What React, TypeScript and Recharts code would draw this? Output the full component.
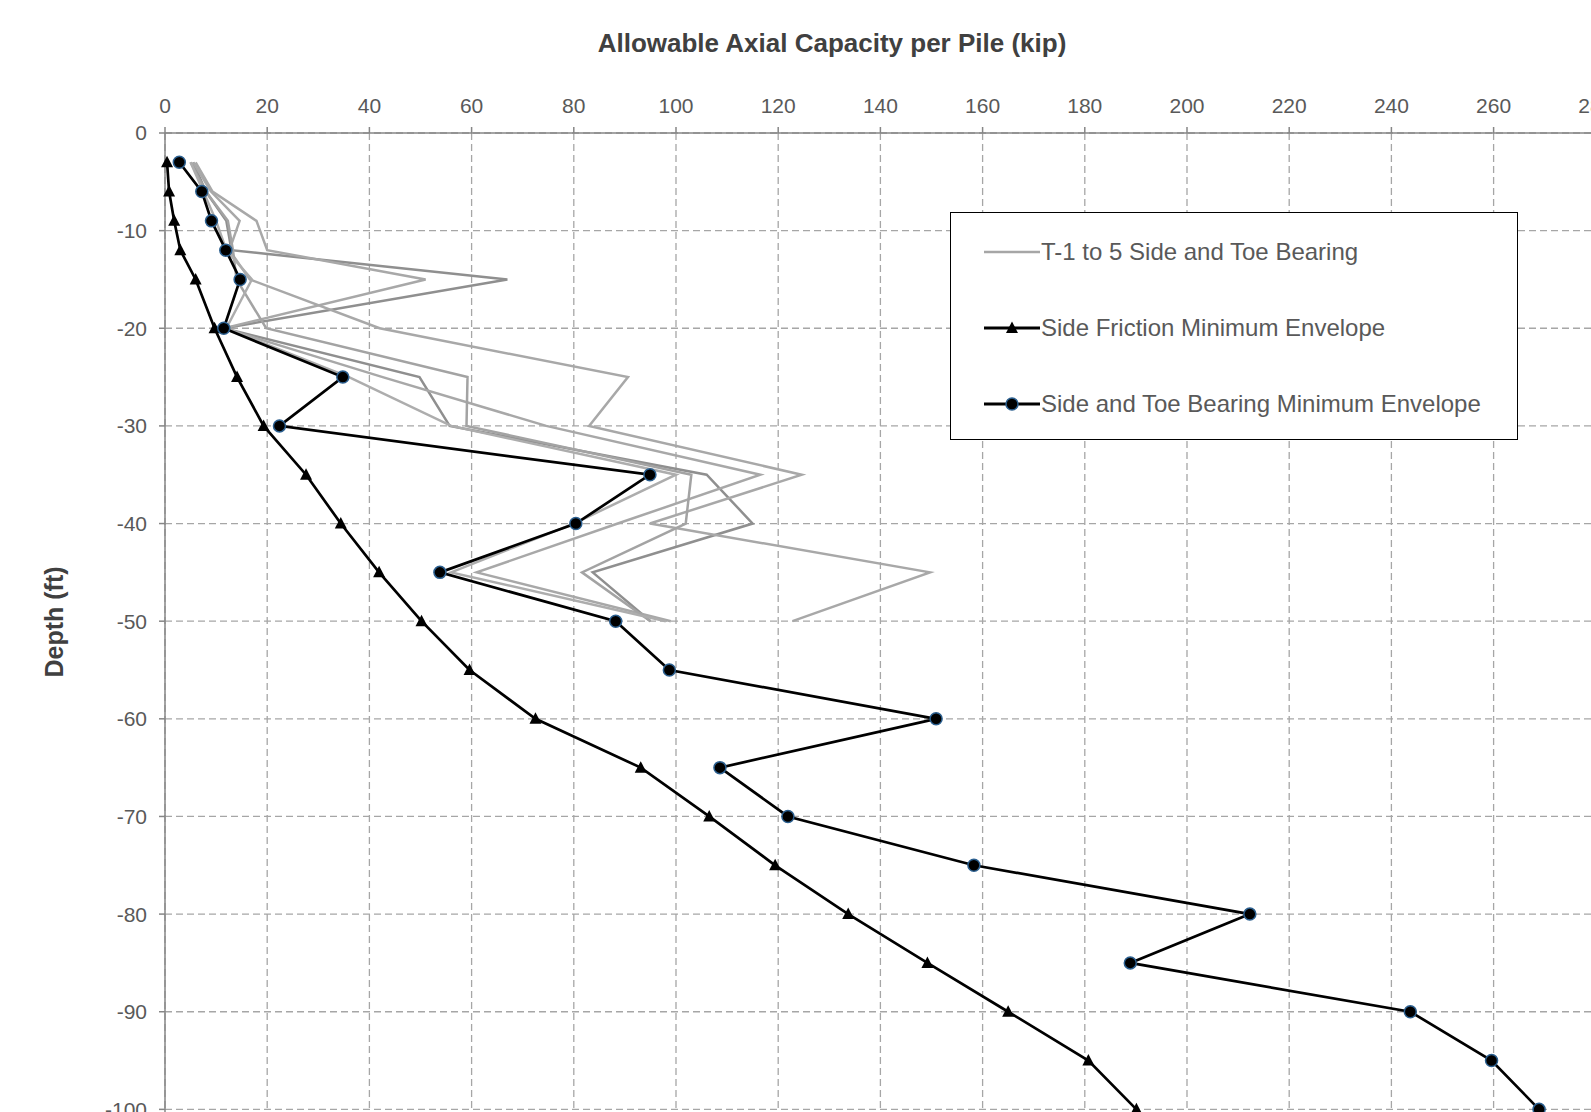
import React from 'react';
import { LineChart, Line, XAxis, YAxis, CartesianGrid } from 'recharts';

const depths = [-3, -6, -9, -12, -15, -20, -25, -30, -35, -40, -45, -50, -55, -60, -65, -70, -75, -80, -85, -90, -95, -100];
const sideFriction = [0.4, 0.8, 1.8, 3, 6, 9.7, 14.1, 19.3, 27.6, 34.4, 41.9, 50.2, 59.6, 72.5, 93.1, 106.5, 119.4, 133.7, 149.2, 165, 180.7, 190.1];
const sideToe = [2.8, 7.2, 9.1, 11.9, 14.7, 11.5, 34.8, 22.4, 94.9, 80.4, 53.8, 88.2, 98.7, 150.9, 108.6, 121.9, 158.3, 212.3, 188.9, 243.7, 259.6, 268.9];

// test holes only go down to -50 ft
const testDepths = [-3, -6, -9, -12, -15, -20, -25, -30, -35, -40, -45, -50];
const t1 = [5.5, 8, 12, 13, 67, 11.5, 49.8, 55.7, 106, 115, 83.7, 95];
const t2 = [6, 9.3, 17.9, 20, 51, 11.5, 42.6, 74.6, 116.5, 88.6, 61, 99];
const t3 = [5.5, 9, 14.6, 12.6, 16.6, 42, 90.6, 83, 124.6, 94.9, 149.7, 122.8];
const t4 = [5, 8, 12.3, 13.3, 14, 19.8, 59.2, 59, 103, 101.9, 81.6, 95];
const t5 = [5, 7.5, 10, 12, 17, 12, 36, 56, 100, 80, 56, 98];

const xTicks = [0, 20, 40, 60, 80, 100, 120, 140, 160, 180, 200, 220, 240, 260, 280, 300];
const yTicks = [0, -10, -20, -30, -40, -50, -60, -70, -80, -90, -100, -110];

const legendNames = ['T-1 to 5 Side and Toe Bearing', 'Side Friction Minimum Envelope', 'Side and Toe Bearing Minimum Envelope'];

const toRows = (ds: number[], vals: number[]) => ds.map((d, i) => ({ cap: vals[i], depth: d }));

const tests = [
  { key: 'T-1', rows: toRows(testDepths, t1), color: '#8f8f8f' },
  { key: 'T-2', rows: toRows(testDepths, t2), color: '#a8a8a8' },
  { key: 'T-3', rows: toRows(testDepths, t3), color: '#a8a8a8' },
  { key: 'T-4', rows: toRows(testDepths, t4), color: '#a3a3a3' },
  { key: 'T-5', rows: toRows(testDepths, t5), color: '#adadad' },
];

const FONT = '"Liberation Sans", Arial, sans-serif';

const TriangleDot = (props: any) => {
  const { cx, cy } = props;
  if (cx == null || cy == null) return null;
  return <path d={`M${cx},${cy - 6.5} L${cx + 6},${cy + 5} L${cx - 6},${cy + 5} Z`} fill="#000" />;
};

const CircleDot = (props: any) => {
  const { cx, cy } = props;
  if (cx == null || cy == null) return null;
  return <circle cx={cx} cy={cy} r={6} fill="#000" stroke="#2b5f8f" strokeWidth={1.5} />;
};

const LegendBox = () => (
  <div style={{ position: 'absolute', left: 950, top: 212, width: 566, height: 226, border: '1.5px solid #000', background: '#fff', fontFamily: FONT }}>
    {legendNames.map((name, i) => {
      const cy = 39 + i * 76;
      return (
        <div key={name} style={{ position: 'absolute', left: 0, top: cy - 16, height: 32, display: 'flex', alignItems: 'center' }}>
          <svg width={90} height={32} style={{ display: 'block' }}>
            <line x1={33} x2={89} y1={16} y2={16} stroke={i === 0 ? '#a6a6a6' : '#000'} strokeWidth={i === 0 ? 2.5 : 3} />
            {i === 1 && <TriangleDot cx={61} cy={16} />}
            {i === 2 && <CircleDot cx={61} cy={16} />}
          </svg>
          <span style={{ fontSize: 24, color: '#595959', whiteSpace: 'nowrap' }}>{name}</span>
        </div>
      );
    })}
  </div>
);

export default function App() {
  const tick = { fill: '#595959', fontSize: 21, fontFamily: FONT };
  return (
    <div style={{ position: 'fixed', left: 0, top: 0, width: 1591, height: 1112, overflow: 'hidden', background: '#fff' }}>
      <LineChart width={1720} height={1220} margin={{ top: 93, right: 22, bottom: 13, left: 105 }}>
        <CartesianGrid stroke="#a6a6a6" strokeDasharray="7 4" strokeWidth={1.3} />
        <XAxis
          type="number"
          dataKey="cap"
          orientation="top"
          domain={[0, 300]}
          ticks={xTicks}
          height={40}
          tick={tick}
          tickSize={6}
          tickMargin={14}
          stroke="#868686"
          strokeWidth={1.5}
          interval={0}
        />
        <YAxis
          type="number"
          dataKey="depth"
          domain={[-110, 0]}
          ticks={yTicks}
          width={60}
          tick={tick}
          tickSize={6}
          tickMargin={12}
          stroke="#868686"
          strokeWidth={1.5}
          interval={0}
        />
        {tests.map(t => (
          <Line
            key={t.key}
            data={t.rows}
            dataKey="depth"
            name={t.key}
            stroke={t.color}
            strokeWidth={2.5}
            dot={false}
            activeDot={false}
            isAnimationActive={false}
          />
        ))}
        <Line
          data={toRows(depths, sideFriction)}
          dataKey="depth"
          name={legendNames[1]}
          stroke="#000"
          strokeWidth={2.7}
          dot={<TriangleDot />}
          activeDot={false}
          isAnimationActive={false}
        />
        <Line
          data={toRows(depths, sideToe)}
          dataKey="depth"
          name={legendNames[2]}
          stroke="#000"
          strokeWidth={2.7}
          dot={<CircleDot />}
          activeDot={false}
          isAnimationActive={false}
        />
      </LineChart>
      <LegendBox />
      <svg width={1591} height={1112} style={{ position: 'absolute', left: 0, top: 0, pointerEvents: 'none' }}>
        <text x={832} y={52} textAnchor="middle" fontFamily={FONT} fontSize={26} fontWeight="bold" fill="#404040">
          Allowable Axial Capacity per Pile (kip)
        </text>
        <text transform="translate(63,622) rotate(-90)" textAnchor="middle" fontFamily={FONT} fontSize={25} fontWeight="bold" fill="#404040">
          Depth (ft)
        </text>
      </svg>
    </div>
  );
}
